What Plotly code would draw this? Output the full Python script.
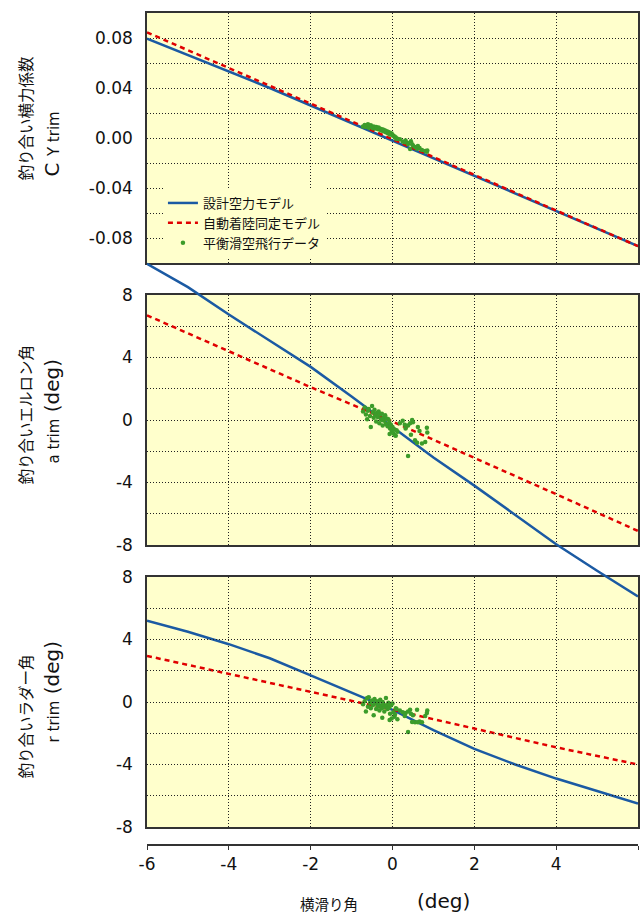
import plotly.graph_objects as go

# ---------------- data ----------------
beta_model = [-6, -5, -4, -3, -2, -1, 0, 1, 2, 3, 4, 5, 6]
beta_ident = [-6, -4, -2, 0, 2, 4, 6]

cy_design = [0.0795, 0.0665, 0.0535, 0.0400, 0.0260, 0.0120, -0.0020, -0.0160, -0.0300, -0.0440, -0.0580, -0.0720, -0.0865]
cy_ident = [0.0845, 0.0560, 0.0275, -0.0010, -0.0295, -0.0580, -0.0865]

da_design = [10.0, 8.5, 6.75, 5.1, 3.4, 1.5, -0.45, -2.4, -4.2, -6.1, -7.95, -9.65, -11.3]
da_ident = [6.7, 4.4, 2.1, -0.1, -2.4, -4.75, -7.1]

dr_design = [5.2, 4.5, 3.7, 2.8, 1.7, 0.6, -0.5, -1.8, -3.0, -4.0, -4.9, -5.7, -6.5]
dr_ident = [2.95, 1.8, 0.65, -0.5, -1.7, -2.9, -4.0]

beta_flight = [-0.72, -0.68, -0.65, -0.62, -0.60, -0.58, -0.55, -0.53, -0.50, -0.48,
               -0.46, -0.44, -0.42, -0.40, -0.38, -0.36, -0.34, -0.32, -0.30, -0.28,
               -0.26, -0.24, -0.22, -0.20, -0.18, -0.16, -0.14, -0.12, -0.10, -0.08,
               -0.06, -0.04, -0.02, 0.00, 0.02, 0.05, 0.08, 0.12, 0.18, 0.25,
               0.32, 0.38, 0.45, 0.50, 0.55, 0.60, 0.66, 0.72, 0.80, 0.85,
               0.38, 0.43, 0.62, 0.84, -0.07, 0.06, -0.25, 0.10, 0.30, 0.48]
cy_flight = [0.0092, 0.0105, 0.0088, 0.0098, 0.0110, 0.0082, 0.0094, 0.0102, 0.0088, 0.0079,
             0.0093, 0.0085, 0.0076, 0.0089, 0.0081, 0.0072, 0.0084, 0.0068, 0.0075, 0.0063,
             0.0070, 0.0058, 0.0066, 0.0052, 0.0060, 0.0046, 0.0055, 0.0041, 0.0049, 0.0036,
             0.0043, 0.0030, 0.0036, 0.0024, 0.0018, 0.0012, 0.0005, -0.0006, -0.0010, -0.0028,
             -0.0020, -0.0048, -0.0025, -0.0060, -0.0072, -0.0085, -0.0080, -0.0096, -0.0104, -0.0100,
             -0.0040, -0.0088, -0.0064, -0.0110, 0.0028, 0.0004, 0.0062, -0.0008, -0.0034, -0.0050]
da_flight = [0.55, 0.80, 0.35, 0.05, 0.60, 0.70, 0.25, -0.45, 0.90, 0.50,
             0.15, 0.65, 0.30, -0.10, 0.45, 0.20, 0.55, -0.20, 0.35, 0.05,
             0.40, -0.35, 0.15, -0.05, 0.30, -0.25, 0.10, -0.40, 0.05, -0.15,
             -0.55, -0.30, -0.70, -0.45, -0.85, -0.60, -1.00, -0.75, -0.20, -0.05,
             -0.55, -0.35, -0.95, -0.15, -1.30, -1.45, -0.70, -1.50, -1.40, -0.80,
             -2.30, -0.20, -0.45, -0.50, -0.90, -0.97, 0.00, -0.65, -0.30, 0.00]
dr_flight = [-0.15, 0.05, -0.60, 0.25, -0.30, 0.30, -0.05, -0.40, 0.10, -0.20,
             -0.85, 0.20, -0.10, -0.45, 0.05, -0.30, -0.05, -0.55, 0.15, -0.25,
             -0.40, 0.00, -0.15, -0.60, -0.30, 0.25, -0.20, -0.45, -0.05, -0.35,
             -0.75, -0.20, -1.05, -0.10, -0.65, -0.95, -0.40, -1.10, -0.55, -0.65,
             -0.70, -0.60, -0.75, -0.85, -1.30, -0.50, -1.25, -1.30, -0.90, -0.55,
             -1.92, -0.50, -1.30, -0.70, -1.15, -0.80, -1.00, -0.45, -0.90, -1.28]

x_ticks = [-6, -4, -2, 0, 2, 4, 6]
x_tick_text = ["-6", "-4", "-2", "0", "2", "4", "6"]
cy_ticks = [-0.08, -0.06, -0.04, -0.02, 0.0, 0.02, 0.04, 0.06, 0.08]
cy_tick_text = ["-0.08", "", "-0.04", "", "0.00", "", "0.04", "", "0.08"]
deg_ticks = [-8, -6, -4, -2, 0, 2, 4, 6, 8]
deg_tick_text = ["-8", "", "-4", "", "0", "", "4", "", "8"]

legend_names = ["設計空力モデル", "自動着陸同定モデル", "平衡滑空飛行データ"]

# ---------------- styling ----------------
W, H = 643, 916
ML, MR, MT, MB = 147, 3, 13, 71
PW, PH = W - ML - MR, H - MT - MB
BOTTOM = H - MB


def px2x(px):
    return (px - ML) / PW


def py2y(py):
    return (BOTTOM - py) / PH


BLUE = "#1b5aa3"
RED = "#e00000"
GREEN = "#3c9c2a"
BG = "#ffffcc"
FRAME = "#333333"
GRID = "#222222"
NUMFONT = "DejaVu Sans"
JPFONT = "Noto Sans CJK JP"

dom1 = [py2y(263), py2y(13)]
dom2 = [py2y(545), py2y(295)]
dom3 = [py2y(827), py2y(577)]
unit2 = (dom2[1] - dom2[0]) / 16.0
dom5 = [dom2[0] - 4 * unit2, dom2[1] + 3 * unit2]

fig = go.Figure()

blue_line = dict(color=BLUE, width=2.5)
red_line = dict(color=RED, width=2.5, dash="5px,4px")
green_marker = dict(color=GREEN, size=4.5)

# panel 1
fig.add_trace(go.Scatter(x=beta_model, y=cy_design, mode="lines", line=blue_line,
                         name=legend_names[0], xaxis="x", yaxis="y"))
fig.add_trace(go.Scatter(x=beta_ident, y=cy_ident, mode="lines", line=red_line,
                         name=legend_names[1], xaxis="x", yaxis="y"))
fig.add_trace(go.Scatter(x=beta_flight, y=cy_flight, mode="markers", marker=green_marker,
                         name=legend_names[2], xaxis="x", yaxis="y"))
# panel 2 (drawn on an extended, invisible axis pair so the design line is not clipped)
fig.add_trace(go.Scatter(x=[], y=[], xaxis="x2", yaxis="y2", showlegend=False))
fig.add_trace(go.Scatter(x=beta_model, y=da_design, mode="lines", line=blue_line,
                         showlegend=False, xaxis="x5", yaxis="y5"))
fig.add_trace(go.Scatter(x=beta_ident, y=da_ident, mode="lines", line=red_line,
                         showlegend=False, xaxis="x5", yaxis="y5"))
fig.add_trace(go.Scatter(x=beta_flight, y=da_flight, mode="markers", marker=green_marker,
                         showlegend=False, xaxis="x5", yaxis="y5"))
# panel 3
fig.add_trace(go.Scatter(x=beta_model, y=dr_design, mode="lines", line=blue_line,
                         showlegend=False, xaxis="x3", yaxis="y3"))
fig.add_trace(go.Scatter(x=beta_ident, y=dr_ident, mode="lines", line=red_line,
                         showlegend=False, xaxis="x3", yaxis="y3"))
fig.add_trace(go.Scatter(x=beta_flight, y=dr_flight, mode="markers", marker=green_marker,
                         showlegend=False, xaxis="x3", yaxis="y3"))
fig.add_trace(go.Scatter(x=[], y=[], xaxis="x4", yaxis="y3", showlegend=False))

panel_x = dict(range=[-6, 6], tickvals=[-4, -2, 0, 2, 4], showticklabels=False, ticks="",
               showgrid=True, gridcolor=GRID, gridwidth=1, griddash="1px,2px",
               zeroline=False, showline=True, mirror=True, linecolor=FRAME, linewidth=1.5,
               domain=[0, 1])
panel_y = dict(showgrid=True, gridcolor=GRID, gridwidth=1, griddash="1px,2px", ticks="",
               zeroline=False, showline=True, mirror=True, linecolor=FRAME, linewidth=1.5,
               tickfont=dict(family=NUMFONT, size=17, color="#111"), ticklabelstandoff=9)

layout = dict(
    width=W, height=H,
    margin=dict(l=ML, r=MR, t=MT, b=MB),
    paper_bgcolor="white", plot_bgcolor="rgba(0,0,0,0)",
    showlegend=True,
    legend=dict(x=px2x(163), y=py2y(188), xanchor="left", yanchor="top",
                bgcolor=BG, borderwidth=0, font=dict(family=JPFONT, size=13, color="#111"),
                tracegroupgap=0),
    xaxis=dict(panel_x, anchor="y"),
    xaxis2=dict(panel_x, anchor="y2"),
    xaxis3=dict(panel_x, anchor="y3"),
    xaxis4=dict(range=[-6, 6], domain=[0, 1], anchor="free", position=0,
                tickvals=x_ticks, ticktext=x_tick_text, ticks="outside", ticklen=4,
                tickcolor=FRAME, showline=True, linecolor=FRAME, linewidth=1.5,
                showgrid=False, zeroline=False,
                tickfont=dict(family=NUMFONT, size=17, color="#111")),
    xaxis5=dict(range=[-6, 6], domain=[0, 1], anchor="y5", visible=False),
    yaxis=dict(panel_y, range=[-0.1, 0.1], domain=dom1, anchor="x",
               tickvals=cy_ticks, ticktext=cy_tick_text),
    yaxis2=dict(panel_y, range=[-8, 8], domain=dom2, anchor="x2",
                tickvals=deg_ticks, ticktext=deg_tick_text),
    yaxis3=dict(panel_y, range=[-8, 8], domain=dom3, anchor="x3",
                tickvals=deg_ticks, ticktext=deg_tick_text),
    yaxis5=dict(range=[-12, 11], domain=dom5, anchor="x5", visible=False),
)
fig.update_layout(**layout)

# panel backgrounds
for xr, yr in [("x", "y"), ("x2", "y2"), ("x3", "y3")]:
    fig.add_shape(type="rect", xref=xr + " domain", yref=yr + " domain",
                  x0=0, x1=1, y0=0, y1=1, fillcolor=BG, line_width=0, layer="below")


def ann(text, px, py, size, family, angle=0):
    fig.add_annotation(text=text, x=px2x(px), y=py2y(py), xref="paper", yref="paper",
                       showarrow=False, textangle=angle, xanchor="center", yanchor="middle",
                       font=dict(family=family, size=size, color="#111"))


ann("釣り合い横力係数", 25, 118, 15.5, JPFONT, -90)
ann("C <span style='font-size:15px'>Y trim</span>", 52, 144, 20, NUMFONT, -90)
ann("釣り合いエルロン角", 25, 414, 15.5, JPFONT, -90)
ann("<span style='font-size:15px'>a trim</span> (deg)", 52, 411, 20, NUMFONT, -90)
ann("釣り合いラダー角", 25, 716, 15.5, JPFONT, -90)
ann("<span style='font-size:15px'>r trim</span> (deg)", 52, 692, 20, NUMFONT, -90)
ann("横滑り角", 330, 903, 14.5, JPFONT)
ann("(deg)", 445, 901, 20, NUMFONT)

fig.write_html("out.html")
